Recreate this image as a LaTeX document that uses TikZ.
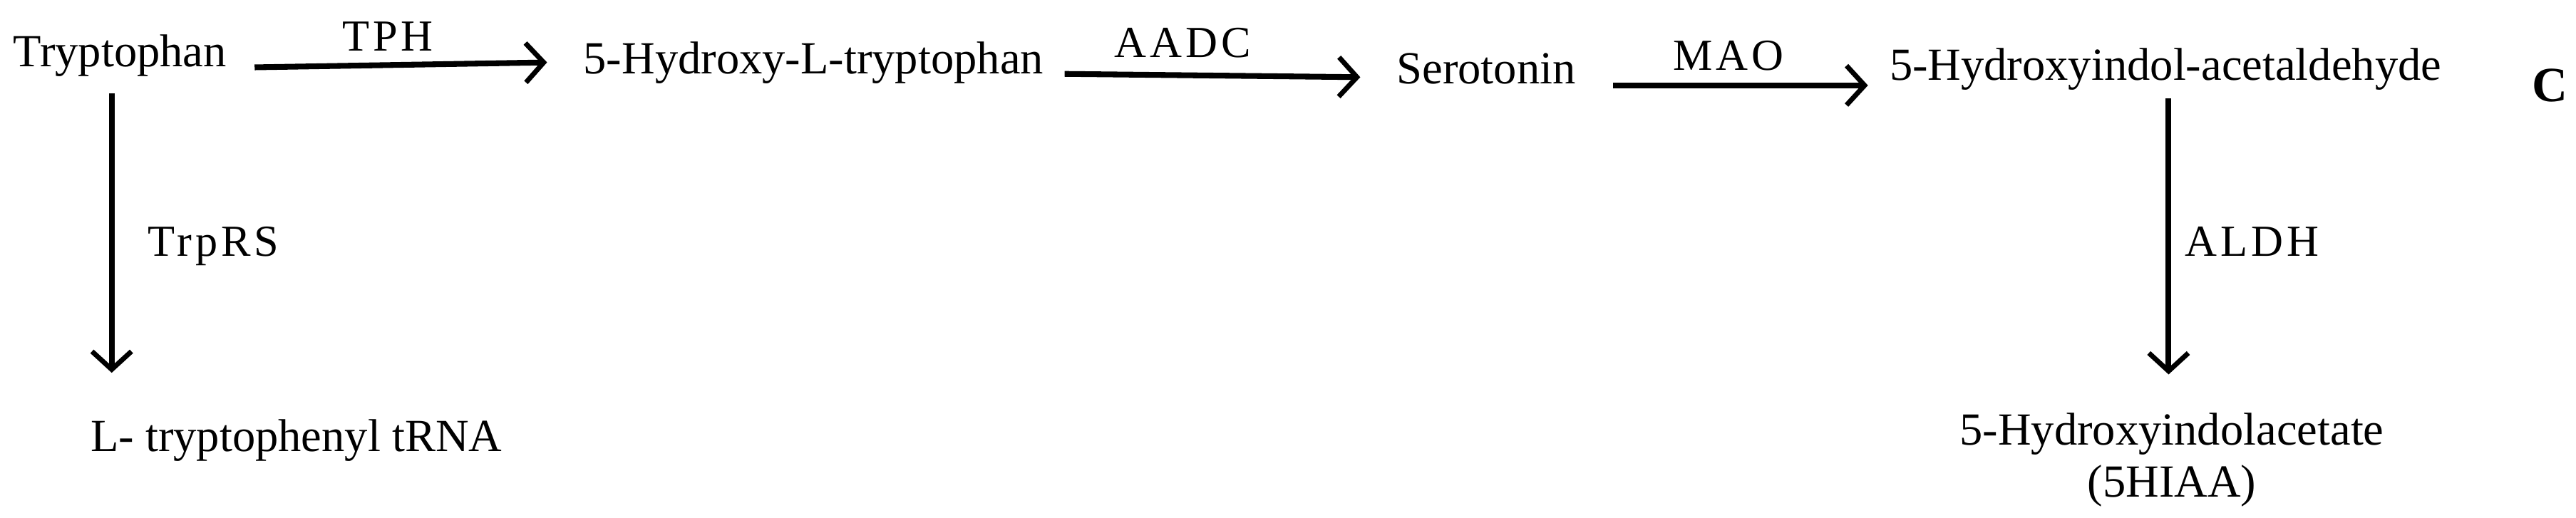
\documentclass[tikz,border=0pt]{standalone}
\usepackage{fontspec}
\setmainfont{Liberation Serif}
\usetikzlibrary{arrows.meta}
\begin{document}
\begin{tikzpicture}[x=1pt,y=-1pt,
  txt/.style={font=\fontsize{28}{32}\selectfont, inner sep=0pt},
  lab/.style={font=\fontsize{27}{31}\selectfont\addfontfeatures{LetterSpace=8}, inner sep=0pt},
  arr/.style={line width=3.5pt,-{Straight Barb[length=11pt,width=24pt,line width=3pt]}}]
\useasboundingbox (0,0) rectangle (1568,315);
\node[txt,anchor=west] (trp) at (8,34) {Tryptophan};
\node[txt,anchor=west] (htp) at (355,38) {5-Hydroxy-L-tryptophan};
\node[txt,anchor=west] (ser) at (850,42) {Serotonin};
\node[txt,anchor=west] (hia) at (1150,42) {5-Hydroxyindol-acetaldehyde};
\node[font=\fontsize{30}{34}\selectfont\bfseries, inner sep=0pt] (c) at (1552,52) {C};
\node[txt,anchor=west] (trna) at (55,268) {L- tryptophenyl tRNA};
\node[txt,align=center] (hiaa) at (1322,280) {5-Hydroxyindolacetate\\(5HIAA)};
\coordinate (a1) at (155,41); \coordinate (b1) at (333,38);
\draw[arr] (a1) -- (b1);
\node[lab] (l1) at (236,22) {TPH};
\coordinate (a2) at (648,45); \coordinate (b2) at (828,47);
\draw[arr] (a2) -- (b2);
\node[lab] (l2) at (720,26) {AADC};
\coordinate (a3) at (982,52); \coordinate (b3) at (1137,52);
\draw[arr] (a3) -- (b3);
\node[lab] (l3) at (1052,34) {MAO};
\coordinate (a4) at (68,57); \coordinate (b4) at (68,227);
\draw[arr] (a4) -- (b4);
\node[lab,anchor=west] (l4) at (90,150) {TrpRS};
\coordinate (a5) at (1320,60); \coordinate (b5) at (1320,228);
\draw[arr] (a5) -- (b5);
\node[lab,anchor=west] (l5) at (1330,147) {ALDH};
\end{tikzpicture}
\end{document}
